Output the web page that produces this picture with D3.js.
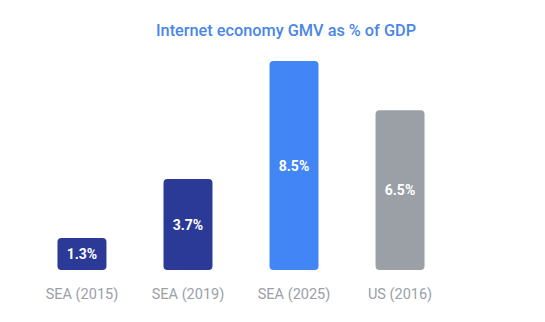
<!DOCTYPE html>
<html>
<head>
<meta charset="utf-8">
<script src="https://cdn.jsdelivr.net/npm/d3@7"></script>
<style>
  body { margin: 0; background: #fff; }
  svg { display: block; font-family: Roboto, "Open Sans", sans-serif; }
</style>
</head>
<body>
<svg id="barchart"></svg>
<script>
// Internet economy GMV as % of GDP
const categories = ["SEA (2015)", "SEA (2019)", "SEA (2025)", "US (2016)"];
const values = [1.3, 3.7, 8.5, 6.5];
const colors = ["#2b3a97", "#2b3a97", "#4285f4", "#9aa0a6"];

const width = 545, height = 322;
const margin = {top: 61, bottom: 52, left: 14, right: 77};

const svg = d3.select("#barchart")
  .attr("width", width)
  .attr("height", height);

// scales
const xScale = d3.scaleBand()
  .domain(categories)
  .range([margin.left, width - margin.right])
  .paddingInner(0.538)
  .paddingOuter(0.41);

const yScale = d3.scaleLinear()
  .domain([0, d3.max(values)])
  .range([height - margin.bottom, margin.top]);

const data = categories.map((c, i) => ({cat: c, value: values[i], color: colors[i]}));

// title
svg.append("text")
  .attr("x", 286)
  .attr("y", 36)
  .attr("text-anchor", "middle")
  .attr("fill", "#4a86e8")
  .attr("font-size", 16.3)
  .attr("font-weight", 500)
  .text("Internet economy GMV as % of GDP");

// bars
svg.selectAll("rect.bar")
  .data(data)
  .join("rect")
  .attr("class", "bar")
  .attr("x", d => xScale(d.cat))
  .attr("y", d => yScale(d.value))
  .attr("width", xScale.bandwidth())
  .attr("height", d => yScale(0) - yScale(d.value))
  .attr("rx", 4)
  .attr("fill", d => d.color);

// value labels in the middle of each bar
svg.selectAll("text.value")
  .data(data)
  .join("text")
  .attr("class", "value")
  .attr("x", d => xScale(d.cat) + xScale.bandwidth() / 2)
  .attr("y", d => (yScale(d.value) + yScale(0)) / 2)
  .attr("dy", "0.36em")
  .attr("text-anchor", "middle")
  .attr("fill", "#fff")
  .attr("font-size", 14)
  .attr("font-weight", 700)
  .text(d => d.value.toFixed(1) + "%");

// x axis, labels only
const xAxis = svg.append("g")
  .attr("transform", `translate(0,${height - margin.bottom})`)
  .call(d3.axisBottom(xScale).tickSize(0).tickPadding(19));

xAxis.select(".domain").remove();
xAxis.selectAll("text")
  .attr("fill", "#9aa0a6")
  .attr("font-size", 14.5)
  .attr("font-family", "Roboto, sans-serif");
</script>
</body>
</html>
